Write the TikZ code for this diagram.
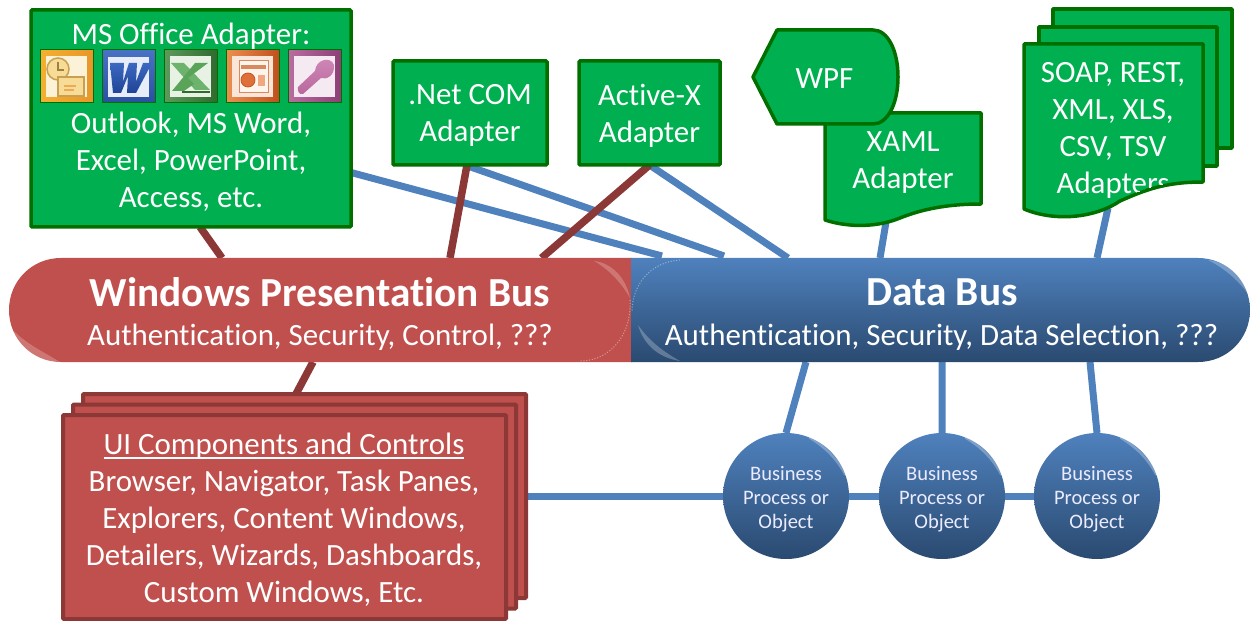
\documentclass[tikz,border=0pt]{standalone}
\usepackage{fontspec}
\setmainfont[Ligatures=CommonOff]{Carlito}
\usetikzlibrary{calc}
\pgfdeclarelayer{bg}
\pgfsetlayers{bg,main}
\def\u{0.02cm}
\definecolor{gfill}{HTML}{00B050}
\definecolor{gline}{HTML}{006F00}
\definecolor{rfill}{HTML}{C0504D}
\definecolor{rline}{HTML}{8C3836}
\definecolor{bline}{HTML}{4F81BD}
\definecolor{btop}{HTML}{4F81BD}
\definecolor{bmid}{HTML}{43709F}
\definecolor{bbot}{HTML}{2A4A70}
\definecolor{olA}{HTML}{F4B030}\definecolor{olB}{HTML}{E8962A}\definecolor{olC}{HTML}{FCF2D8}\definecolor{olD}{HTML}{F6DC96}\definecolor{olE}{HTML}{C8A050}
\definecolor{wdA}{HTML}{4A72C4}\definecolor{wdB}{HTML}{2A4FA0}\definecolor{wdC}{HTML}{E6ECF8}\definecolor{wdD}{HTML}{3C68C0}\definecolor{wdE}{HTML}{1F4496}
\definecolor{xlA}{HTML}{5E9A5E}\definecolor{xlB}{HTML}{2F6A2F}\definecolor{xlC}{HTML}{E8F2E4}\definecolor{xlD}{HTML}{6DB36D}\definecolor{xlE}{HTML}{5AA45A}\definecolor{xlF}{HTML}{2F6A2F}
\definecolor{ppA}{HTML}{EC9050}\definecolor{ppB}{HTML}{C0501F}\definecolor{ppC}{HTML}{FAE6D8}\definecolor{ppD}{HTML}{FDF4EC}\definecolor{ppE}{HTML}{D88A5E}\definecolor{ppF}{HTML}{E0703A}\definecolor{ppG}{HTML}{F0A880}
\definecolor{acA}{HTML}{B86CA0}\definecolor{acB}{HTML}{8C4075}\definecolor{acC}{HTML}{F6EAF2}\definecolor{acD}{HTML}{D088B8}\definecolor{acE}{HTML}{B8689C}
\newcommand\txtsize{\fontsize{17.6}{21.05}\selectfont}
\newcommand\ultext[1]{{\setbox0\hbox{#1}\rlap{\rule[-2.6pt]{\wd0}{1.15pt}}\box0}}
\tikzset{
  wtext/.style={text=white,font=\txtsize,align=center,inner sep=0,outer sep=0},
  gbox/.style={draw=gline,fill=gfill,line width=3.5*\u,rounded corners=0.6pt,outer sep=0,inner sep=0},
  rbox/.style={draw=rline,fill=rfill,line width=4*\u,rounded corners=0.6pt,outer sep=0,inner sep=0},
  gshape/.style={draw=gline,fill=gfill,line width=3.5*\u,line join=round},
  blueln/.style={draw=bline,line width=7*\u},
  redln/.style={draw=rline,line width=7.5*\u},
  ball/.style={circle,shade,top color=btop,middle color=bmid,bottom color=bbot,minimum size=126*\u,inner sep=0,outer sep=0},
  balltext/.style={text=white!92!blue,align=center,inner sep=0,outer sep=0,font=\fontsize{11.7}{13.7}\selectfont},
  busarea/.style={inner sep=0,outer sep=0,minimum height=104*\u},
  icoframe/.style={draw=gline,line width=1*\u},
  bustitle/.style={text=white,inner sep=0,outer sep=0,font=\fontsize{23.5}{26}\selectfont\bfseries},
  bussub/.style={text=white,inner sep=0,outer sep=0,font=\txtsize},
}
\begin{document}
\begin{tikzpicture}[x=0.02cm,y=-0.02cm]
\useasboundingbox (0,0) rectangle (1250,621);
% buses
\path[fill=rfill] (632,258) -- (61,258) .. controls (32,258) and (9,281) .. (9,310) .. controls (9,339) and (32,362) .. (61,362) -- (632,362) -- cycle;
\shade[top color=btop,middle color=bmid,bottom color=bbot] (631,258) -- (1198,258) .. controls (1227,258) and (1250,281) .. (1250,310) .. controls (1250,339) and (1227,362) .. (1198,362) -- (631,362) -- cycle;
% rim highlights
\fill[white,opacity=.22] (13,330) .. controls (20,350) and (38,361) .. (60,362) .. controls (44,352) and (26,344) .. (13,330) -- cycle;
\fill[white,opacity=.22] (594,261) .. controls (612,263) and (626,278) .. (630,298) .. controls (622,284) and (610,270) .. (594,261) -- cycle;
\draw[white,opacity=.4,line width=.6pt,densely dotted] (630,300) .. controls (632,335) and (610,361) .. (580,361);
\draw[white,opacity=.4,line width=.6pt,densely dotted] (680,260) .. controls (650,262) and (632,285) .. (632,312);
\fill[white,opacity=.25] (638,325) .. controls (644,346) and (660,358) .. (680,361) .. controls (664,352) and (650,342) .. (638,325) -- cycle;
\fill[white,opacity=.25] (1208,260) .. controls (1226,262) and (1241,274) .. (1248,294) .. controls (1238,280) and (1224,268) .. (1208,260) -- cycle;
\node[busarea,minimum width=623*\u] (wbus) at (320.5,310) {};
\node[busarea,minimum width=619*\u] (dbus) at (940.5,310) {};
\node[bustitle] (wt) at (320,292) {Windows Presentation Bus};
\node[bussub] (ws) at (320,337) {Authentication, Security, Control, ???};
\node[bustitle] (dt) at (942,292) {Data Bus};
\node[bussub] (ds) at (941.5,337) {Authentication, Security, Data Selection, ???};
% MS Office box
\node[gbox,minimum width=320*\u,minimum height=217*\u] (ms) at (191,118.5) {};
\node[wtext] (mst) at (191,36) {MS Office Adapter:};
\node[wtext] (msb) at (191,162) {Outlook, MS Word,\\Excel, PowerPoint,\\Access, etc.};
% icons
\begin{scope}[shift={(40,50)}]
  \shade[left color=olA,right color=olB,icoframe] (0,0) rectangle (53,53);
  \fill[olC] (6,6) rectangle (47,47);
  \draw[fill=olD,draw=olE,line width=1.5*\u] (18,19) circle[radius=11];
  \draw[olE!80!black,line width=1.2*\u] (18,12) -- (18,20) -- (24,20);
  \draw[fill=olD,draw=olE,line width=1.5*\u] (18,27) rectangle (44,46);
  \draw[olB!80!white,line width=2*\u] (24,36) -- (36,36) (24,40) -- (34,40);
\end{scope}
\begin{scope}[shift={(102,50)}]
  \shade[top color=wdA,bottom color=wdB,icoframe] (0,0) rectangle (53,53);
  \fill[wdC] (6,7) rectangle (47,47);
  \shade[top color=wdD,bottom color=wdE] (8,13) -- (22,13) -- (21,32) -- (27,13) -- (35,13) -- (34,32) -- (41,13) -- (50,13) -- (34,43) -- (25,43) -- (26,26) -- (19,43) -- (11,43) -- cycle;
\end{scope}
\begin{scope}[shift={(164,50)}]
  \shade[left color=xlA,right color=xlB,icoframe] (0,0) rectangle (53,53);
  \fill[xlC] (6,6) rectangle (47,47);
  \fill[xlD] (7,13) -- (20,13) -- (46,40) -- (31,40) -- cycle;
  \fill[xlE] (31,13) -- (44,13) -- (24,28) -- (30,34) -- (20,41) -- (8,41) -- cycle;
  \draw[xlF,line width=2*\u] (18,42) -- (46,42);
\end{scope}
\begin{scope}[shift={(226,50)}]
  \shade[left color=ppA,right color=ppB,icoframe] (0,0) rectangle (53,53);
  \fill[ppC] (6,6) rectangle (47,47);
  \draw[ppE,line width=.8*\u,fill=ppD] (13,10) rectangle (42,42);
  \fill[ppE] (15,15) rectangle (40,19);
  \draw[fill=ppF,draw=ppB] (22,30) circle[radius=7];
  \fill[ppG] (32,25) rectangle (39,36);
\end{scope}
\begin{scope}[shift={(288,50)}]
  \shade[left color=acA,right color=acB,icoframe] (0,0) rectangle (53,53);
  \fill[acC] (6,6) rectangle (47,47);
  \shade[top color=acD,bottom color=acE] (10,37) -- (27,21) .. controls (28,9) and (43,6) .. (46,15) .. controls (47,26) and (38,30) .. (33,28) -- (15,44) .. controls (11,45) and (9,41) .. (10,37) -- cycle;
\end{scope}
% adapters
\node[gbox,minimum width=154*\u,minimum height=104*\u] (net) at (470,113) {};
\node[wtext] (nett) at (470,115.5) {.Net COM\\Adapter};
\node[gbox,minimum width=141*\u,minimum height=104*\u] (ax) at (649.5,113) {};
\node[wtext] (axt) at (649.5,115.5) {Active-X\\Adapter};
% XAML document + WPF
\path[gshape] (825,113) -- (981,113) -- (981,204) .. controls (945,204) and (920,210) .. (900,218) .. controls (878,227) and (850,228) .. (825,220) -- cycle;
\node[wtext] (xaml) at (903,162.5) {XAML\\Adapter};
\path[gshape] (753,77) -- (777,30) -- (873,30) .. controls (888,30) and (898,51) .. (898,77) .. controls (898,103) and (888,124) .. (873,124) -- (777,124) -- cycle;
\node[wtext] (wpf) at (824.5,79) {WPF};
% SOAP stacked documents
\path[gshape] (1053,9) -- (1232,9) -- (1232,148) -- (1053,148) -- cycle;
\path[gshape] (1039,27) -- (1217,27) -- (1217,166) -- (1039,166) -- cycle;
\path[gshape] (1024,44) -- (1203,44) -- (1203,182) .. controls (1165,182) and (1145,190) .. (1120,201) .. controls (1095,218) and (1055,222) .. (1024,209) -- cycle;
\begin{scope}
  \clip (1024,44) -- (1203,44) -- (1203,180) .. controls (1165,180) and (1145,188) .. (1120,199) .. controls (1095,216) and (1055,220) .. (1024,209) -- cycle;
  \node[wtext] (soap) at (1113,130.5) {SOAP, REST,\\XML, XLS,\\CSV, TSV\\Adapters};
\end{scope}
\coordinate (xamlfoot) at (886,222);
\coordinate (soapfoot) at (1108,208);
% UI stack
\node[rbox,minimum width=443*\u,minimum height=204*\u] (ui3) at (304.5,496) {};
\node[rbox,minimum width=443*\u,minimum height=204*\u] (ui2) at (294.5,506.5) {};
\node[rbox,minimum width=443*\u,minimum height=204*\u] (ui1) at (284.5,517) {};
\node[wtext] (uit) at (284,519.5) {\ultext{UI Components and Controls}\\Browser, Navigator, Task Panes,\\Explorers, Content Windows,\\Detailers, Wizards, Dashboards,\\Custom Windows, Etc.};
% business balls
\node[ball] (b1) at (786,496) {};
\node[ball] (b2) at (942,496) {};
\node[ball] (b3) at (1097,496) {};
\foreach \b in {b1,b2,b3}{
  \node[balltext] (\b t) at ([shift={(0,3)}]\b.center) {Business\\Process or\\Object};
  \draw[white,opacity=.28,line width=2.5*\u,line cap=round] (\b.20) .. controls (\b.35) and (\b.50) .. (\b.68);
}
% connectors
\begin{pgfonlayer}{bg}
  \draw[blueln] ([shift={(0,54)}]ms.east) -- ([shift={(31,-2)}]dbus.north west);
  \draw[blueln] ([shift={(-5,0)}]net.south) -- ([shift={(93,-2)}]dbus.north west);
  \draw[blueln] ([shift={(0,0)}]ax.south) -- ([shift={(157,0)}]dbus.north west);
  \draw[blueln] (xamlfoot) -- ([shift={(-60.5,0)}]dbus.north);
  \draw[blueln] (soapfoot) -- ([shift={(156.5,0)}]dbus.north);
  \draw[blueln] ([shift={(-134.5,0)}]dbus.south) -- (b1.north);
  \draw[blueln] ([shift={(1.5,0)}]dbus.south) -- (b2.north);
  \draw[blueln] ([shift={(149.5,0)}]dbus.south) -- (b3.north);
  \draw[blueln] (ui3.east) -- (b1.west);
  \draw[blueln] (b1.east) -- (b2.west);
  \draw[blueln] (b2.east) -- (b3.west);
  \draw[redln] ([shift={(9,0)}]ms.south) -- ([shift={(-98.5,0)}]wbus.north);
  \draw[redln] ([shift={(-3,0)}]net.south) -- ([shift={(129.5,0)}]wbus.north);
  \draw[redln] ([shift={(0,0)}]ax.south) -- ([shift={(221,0)}]wbus.north);
  \draw[redln] ([shift={(-7.5,0)}]wbus.south) -- ([shift={(-8.5,0)}]ui3.north);
\end{pgfonlayer}
\end{tikzpicture}
\end{document}
